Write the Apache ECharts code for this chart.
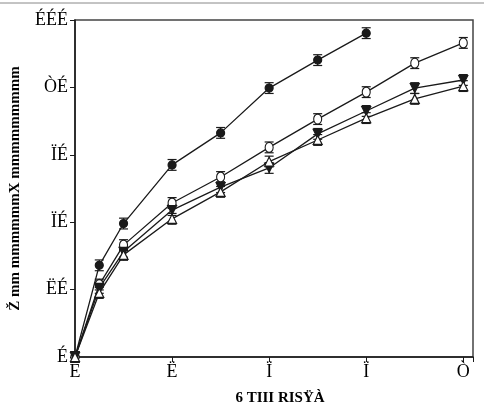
<!DOCTYPE html>
<html>
<head>
<meta charset="utf-8">
<script src="https://cdn.jsdelivr.net/npm/echarts@6/dist/echarts.min.js"></script>
<style>
  html, body { margin: 0; padding: 0; background: #fff; }
  #chart { width: 484px; height: 414px; }
</style>
</head>
<body>
<div id="chart"></div>
<script>
// x positions of the measurements
var xValues = [0, 0.5, 1, 2, 3, 4, 5, 6, 7, 8];
// series values
var filledCircle = [0, 27.2, 39.6, 57.0, 66.5, 79.8, 88.1, 96.1];
var openCircle = [0, 21.5, 33.2, 45.7, 53.4, 62.2, 70.6, 78.6, 87.2, 93.2];
var filledDown = [0, 20.5, 31.2, 43.6, 50.4, 56.1, 66.2, 73.0, 79.8, 82.2];
var openUp = [0, 19.0, 30.3, 41.0, 49.0, 58.0, 64.4, 70.9, 76.6, 80.4];
var errSize = 1.6;
// tick labels as they appear in the figure
var xTickLabels = ['Ë', 'Ë', 'Ï', 'Ï', 'Ò'];
var yTickLabels = ['É', 'ËÉ', 'ÏÉ', 'ÏÉ', 'ÒÉ', 'ÉÉÉ'];
var xTitle = '6 TIII RISŸÀ';
var yTitle = 'Ž mm mmmmmmX mmmmmmmmm';

var chart = echarts.init(document.getElementById('chart'));
var ink = '#1a1a1a';
var font = 'Liberation Serif';

function pairs(vals) {
  return vals.map(function (v, i) { return [xValues[i], v]; });
}

function errorSeries(vals) {
  return {
    type: 'custom',
    z: 3,
    silent: true,
    data: vals.map(function (v, i) { return [xValues[i], v - errSize, v + errSize]; }),
    renderItem: function (params, api) {
      var lo = api.coord([api.value(0), api.value(1)]);
      var hi = api.coord([api.value(0), api.value(2)]);
      var w = 4.5;
      var st = { stroke: ink, lineWidth: 1.2 };
      return {
        type: 'group',
        children: [
          { type: 'line', shape: { x1: lo[0], y1: lo[1], x2: hi[0], y2: hi[1] }, style: st },
          { type: 'line', shape: { x1: lo[0] - w, y1: lo[1], x2: lo[0] + w, y2: lo[1] }, style: st },
          { type: 'line', shape: { x1: hi[0] - w, y1: hi[1], x2: hi[0] + w, y2: hi[1] }, style: st }
        ]
      };
    }
  };
}

function lineSeries(vals, symbol, size, fill, rotate) {
  return {
    type: 'line',
    z: 5,
    data: pairs(vals),
    symbol: symbol,
    symbolSize: size,
    symbolRotate: rotate || 0,
    showAllSymbol: true,
    lineStyle: { color: ink, width: 1.3 },
    itemStyle: { color: fill, borderColor: ink, borderWidth: 1.2 }
  };
}

var option = {
  animation: false,
  backgroundColor: '#fff',
  grid: {
    left: 70, right: 11, top: 20, bottom: 57,
    show: true, borderColor: '#444', borderWidth: 1.5
  },
  xAxis: {
    type: 'value',
    min: 0, max: 8.2, interval: 2,
    axisLine: { lineStyle: { color: ink, width: 1.5 } },
    axisTick: { length: 5, lineStyle: { color: ink } },
    splitLine: { show: false },
    axisLabel: {
      color: '#000', fontFamily: font, fontSize: 18, margin: 6,
      formatter: function (v) {
        var i = Math.round(v / 2);
        return (Math.abs(v - i * 2) < 1e-6 && xTickLabels[i]) ? xTickLabels[i] : '';
      }
    },
    name: xTitle,
    nameLocation: 'middle',
    nameGap: 34,
    nameTextStyle: { color: '#000', fontFamily: font, fontSize: 15, fontWeight: 'bold', padding: [0, 0, 0, 12] }
  },
  yAxis: {
    type: 'value',
    min: 0, max: 100, interval: 20,
    axisLine: { show: true, lineStyle: { color: ink, width: 1.5 } },
    axisTick: { show: true, length: 5, lineStyle: { color: ink } },
    splitLine: { show: false },
    axisLabel: {
      color: '#000', fontFamily: font, fontSize: 18, margin: 7,
      formatter: function (v) { return yTickLabels[Math.round(v / 20)] || ''; }
    },
    name: yTitle,
    nameLocation: 'middle',
    nameGap: 52,
    nameRotate: 90,
    nameTextStyle: { color: '#000', fontFamily: font, fontSize: 15, fontWeight: 'bold', padding: [0, 0, 0, 0] }
  },
  graphic: [
    { type: 'line', shape: { x1: 0, y1: 3, x2: 484, y2: 3 }, style: { stroke: '#888', lineWidth: 1 } }
  ],
  series: [
    errorSeries(filledCircle),
    errorSeries(openCircle),
    errorSeries(filledDown),
    errorSeries(openUp),
    lineSeries(filledCircle, 'circle', 8, ink),
    lineSeries(openCircle, 'circle', [8, 10], '#fff'),
    lineSeries(filledDown, 'triangle', 9, ink, 180),
    lineSeries(openUp, 'triangle', 9, '#fff')
  ]
};

chart.setOption(option);
</script>
</body>
</html>
